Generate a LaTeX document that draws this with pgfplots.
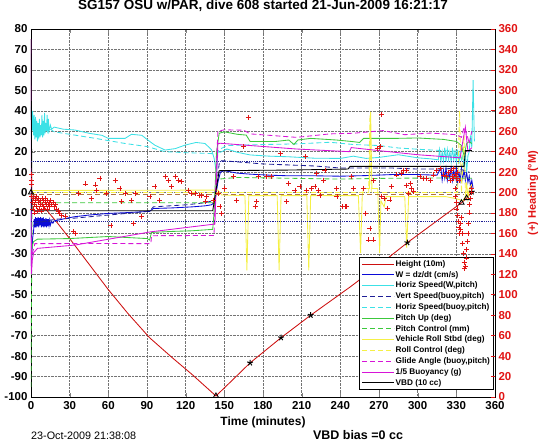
\documentclass[border=0pt]{standalone}
\usepackage{fontspec}
\setmainfont{Liberation Sans}
\usepackage{pgfplots}
\pgfplotsset{compat=1.18}
\definecolor{hred}{RGB}{205,15,15}
\definecolor{axred}{RGB}{225,20,20}
\definecolor{wblue}{RGB}{10,10,215}
\definecolor{navy}{RGB}{30,30,150}
\definecolor{mcyan}{RGB}{60,225,230}
\definecolor{mgreen}{RGB}{60,200,60}
\definecolor{myellow}{RGB}{245,240,70}
\definecolor{mmag}{RGB}{215,20,215}
\definecolor{mbrown}{RGB}{175,115,65}
\begin{document}
\begin{tikzpicture}
\path[use as bounding box] (-31pt,-45pt) rectangle (515pt,397pt);
\begin{axis}[
  at={(0pt,0pt)}, anchor=south west,
  width=464pt, height=368pt, scale only axis,
  xmin=0, xmax=360, ymin=-100, ymax=80,
  xtick={0,30,...,360}, ytick={-100,-90,...,80},
  xtick pos=both, ytick pos=left, tick align=inside,
  major tick length=4pt,
  grid=major, major grid style={densely dotted, black!55, line width=0.5pt},
  axis line style={line width=0.7pt},
  tick label style={font=\fontsize{11.5}{13}\selectfont\bfseries},
  /pgf/number format/assume math mode=true,
  /pgf/number format/1000 sep={},
  xticklabel style={yshift=-0.5pt},
  xlabel={Time (minutes)},
  xlabel style={font=\fontsize{12}{14}\selectfont\bfseries, at={(axis description cs:0.5,0)}, anchor=center, yshift=-25pt},
  title={SG157 OSU w/PAR, dive 608 started 21-Jun-2009 16:21:17},
  title style={font=\fontsize{13.5}{15}\selectfont\bfseries, at={(axis description cs:0.5,1)}, anchor=center, yshift=17pt},
  legend style={at={(1,0)}, anchor=south east, xshift=-1.5pt, yshift=7pt,
    font=\fontsize{8.2}{10}\selectfont\bfseries, draw=black, line width=0.7pt,
    inner xsep=2.5pt, inner ysep=2pt, row sep=1.2pt,
    nodes={inner sep=0.8pt, text height=6.2pt, text depth=1.8pt}},
  legend cell align=left,
  legend image code/.code={\draw[#1, line width=1pt] (0pt,0pt) -- (32pt,0pt);},
  every axis plot/.append style={line width=0.85pt},
]
% Height
\addplot[hred] coordinates {(0,0)(10,-7)(20,-14.5)(30,-22.5)(45,-35)(60,-47.5)(75,-59)(92,-71)(110,-81)(125,-89)(143.5,-99.5)(155,-92.5)(170,-83.3)(194,-71)(217,-60)(248,-46)(270,-35.5)(292,-24.5)(320,-11.5)(334,-5)(338,-2.7)(342,0.3)};
\addlegendentry{Height (10m)}
% W
\addplot[wblue] coordinates {(0,0)(0.3,-36)(0.8,-28)(1.3,-22)(2,-19)(2.5,-13)(3,-17)(3.5,-12)(4,-17)(4.5,-12.5)(5,-16.5)(5.5,-12)(6,-17)(6.5,-12.5)(7,-16)(7.5,-12)(8,-17)(8.5,-12.5)(9,-16.5)(9.5,-12)(10,-17)(10.5,-13)(11,-16.5)(11.5,-12.5)(12,-17)(12.5,-13)(13,-16.5)(13.5,-13)(14,-16)(14.5,-13.5)(15,-16)(16,-14)(17,-15)(18,-13.8)(21,-13.5)(28,-12.5)(34,-11.8)(45,-11)(60,-10.2)(75,-9.8)(86,-9.4)(92,-9.2)(95,-7.8)(110,-7.5)(125,-7)(135,-6.5)(140,-6)(142,-5)(143,-3)(145,5)(147,10)(150,10.7)(160,9.5)(170,9)(185,8.5)(200,8.2)(220,8.2)(240,8)(260,8.3)(280,8.8)(300,8.8)(315,8.5)(318,12)(319,6)(320,11)(321,7)(322,12)(323,6)(324,10)(325,7)(326,13)(327,6)(328,11)(329,7)(330,12)(331,5)(332,10)(333,6)(334,12)(335,7)(336,11)(337,6)(338,10)(339,5)(340,8)(341,3)(342,6)(343,2)};
\addlegendentry{W = dz/dt (cm/s)}
% Horiz speed (W,pitch)
\addplot[mcyan] coordinates {(0,42)(0.8,30)(1.3,40)(2,28)(2.5,38)(3,26)(3.5,37)(4,27)(4.5,35)(5,25)(5.5,34)(6,26)(6.5,36)(7,27)(7.5,33)(8,28)(8.5,38)(9,27)(9.5,35)(10,28)(10.5,39)(11,29)(11.5,34)(12,30)(12.5,38)(13,29)(13.5,36)(14,30)(15,33)(16,31)(18,32)(25,31)(34,30.6)(45,29)(55,28)(60,26.5)(73,26.5)(78,28.5)(86,28)(90,26)(96,23.2)(104,20.8)(112,21.5)(119.5,23.2)(128,24.5)(135,24)(140,21)(142,17)(143,13)(144,10)(145,20)(147,19.7)(152,21.3)(160,19.7)(170,18.4)(185,17.8)(200,17.5)(220,16.8)(240,16.7)(250,17.8)(260,16.7)(270,17.2)(285,18.5)(300,17)(310,16.5)(316,16)(317,21)(318,15)(319,20)(320,15.5)(321,22)(322,15)(323,21)(324,16)(325,20)(326,15)(327,22)(328,16)(329,20)(330,15)(331,21)(332,14)(333,20)(334,16)(335,18)(336,12)(337,20)(338,10)(339,18)(340,20)(341,28)(342,22)(343,55)(344,25)};
\addlegendentry{Horiz Speed(W,pitch)}
% Vert speed (buoy,pitch)
\addplot[navy, dash pattern=on 5pt off 3pt] coordinates {(2,-16)(10,-14)(20,-13)(34,-12.5)(60,-11)(86,-9.5)(92,-9)(95,-7)(120,-6)(135,-5)(141,-4)(143,-2)(146,14)(148,15.6)(160,15)(180,14)(200,13.5)(220,13)(240,12)(260,12)(280,12)(300,11.5)(320,11.5)(330,12)(335,11)(340,10)};
\addlegendentry{Vert Speed(buoy,pitch)}
% Horiz speed (buoy,pitch)
\addplot[mcyan, dash pattern=on 5pt off 3pt] coordinates {(15,31)(18,29.7)(34,28.1)(50,26.5)(73,24)(90,22.5)(104,20)(120,19.5)(135,19.2)(142,19)(144,19)(146,21)(152,23)(180,23.5)(206,23.8)(232,24.6)(250,23.5)(270,23)(285,21.8)(305,21)(330,20.2)(340,20)};
\addlegendentry{Horiz Speed(buoy,pitch)}
% Pitch up
\addplot[mgreen] coordinates {(0.3,-30)(1,-26)(2,-24)(5,-22.8)(30,-22.5)(60,-21.5)(75,-22)(90,-22.5)(92,-23.2)(93.5,-19.5)(110,-19)(125,-18.7)(141,-18)(142,-10)(144,20)(146,29)(150,29.7)(160,28.5)(167,28.1)(170,25)(190,25)(200,25.7)(204,23.5)(207,25.7)(217,26.5)(237,25.7)(250,24.9)(255,24.5)(258,26.5)(283,26.5)(300,26.7)(320,26)(330,25)(334,23)(336,18)(338,24)(340,25)(342,24)};
\addlegendentry{Pitch Up (deg)}
% Pitch control
\addplot[mgreen, dash pattern=on 5pt off 3pt] coordinates {(0,-95)(0.8,-5)(142,-5)(144,5)(146,6.6)(160,7.4)(200,7)(240,6.6)(280,7)(330,7.2)(335,7)(342,7)};
\addlegendentry{Pitch Control (mm)}
% Vehicle roll
\addplot[myellow] coordinates {(0,1)(141,1.2)(145,1.2)(148,-1.2)(166,-1.5)(167.5,-38)(169,-1.5)(191,-1.5)(192.5,-38)(194,-1.5)(214,-1.5)(215.5,-38)(217,-1.5)(254,-1.5)(255.7,-29.6)(257,-1.5)(258,2)(262.5,2)(263.5,39.5)(264.5,2)(269,2)(270.5,-29.6)(271.5,-4)(274,-7)(275.5,-2)(290,-2)(291.5,-27)(293,-2)(322,-2)(330,-3)(335,-4)(337,-2)(338,5)(339,-3)(340,2)(342,4)};
\addlegendentry{Vehicle Roll Stbd (deg)}
% Roll control
\addplot[myellow, dash pattern=on 5pt off 3pt] coordinates {(0,0)(262,0)(263,38)(264,0)(331,0)(332.5,40)(334,0)(336,28)(337,0)(342,0)};
\addlegendentry{Roll Control (deg)}
% Glide angle
\addplot[mmag, dash pattern=on 5pt off 3pt] coordinates {(1,-30)(3,-25)(50,-24.9)(93,-25)(93.5,-21.1)(142,-21)(143,0)(145,30)(150,30.7)(165,30.5)(170,28.7)(206,27)(232,28.7)(250,29)(273,30.3)(290,28.3)(310,29.1)(330,28.3)(334,27)(336,32)(338,29)(340,24)(342,30)};
\addlegendentry{Glide Angle (buoy,pitch)}
% 1/5 buoyancy
\addplot[mmag] coordinates {(0,75)(0.3,-40)(1,-33)(2,-29.5)(5,-27.3)(34,-25.7)(93,-19.2)(142.7,-15.4)(143.5,0)(145,24)(147,24.1)(206,21.3)(247,20)(248.5,22)(270,20.5)(300,18.5)(333,17)(335,25)(337,32)(339,20)(342,22)};
\addlegendentry{1/5 Buoyancy (g)}
% VBD
\addplot[black] coordinates {(0,75)(0.7,-8.9)(141,-8.9)(146,10.7)(200,11)(246,11.5)(247.5,12.8)(336,12.8)(337,20.5)(342,20.5)};
\addlegendentry{VBD (10 cc)}
% extras
\addplot[mbrown, dash pattern=on 5pt off 3pt, forget plot] coordinates {(0,-0.8)(336,-0.8)};
\addplot[navy, densely dotted, line width=0.9pt, forget plot] coordinates {(0,15)(360,15)};
\addplot[navy, densely dotted, line width=0.9pt, forget plot] coordinates {(0,-14)(360,-14)};
\addplot[black, only marks, mark=triangle, mark size=3pt, forget plot] coordinates {(0,0)(143.5,-99.5)(334,-5)(338,-2.7)};
\addplot[black, only marks, mark=star, mark size=3pt, line width=1pt, forget plot] coordinates {(170,-83.3)(194,-71)(217,-60)(292,-24.5)(342,0.3)};
\end{axis}
\begin{axis}[
  at={(0pt,0pt)}, anchor=south west,
  width=464pt, height=368pt, scale only axis,
  xmin=0, xmax=360, ymin=0, ymax=360,
  hide x axis, axis y line*=right,
  ytick={0,20,...,360}, tick align=inside, major tick length=4pt,
  ytick style={draw=axred, line width=0.6pt},
  axis line style={line width=0.7pt},
  tick label style={font=\fontsize{11.5}{13}\selectfont\bfseries, text=axred},
  /pgf/number format/assume math mode=true,
  ylabel={(+) Heading (°M)},
  ylabel style={font=\fontsize{11}{13}\selectfont\bfseries, text=axred, at={(axis description cs:1.082,0.554)}, anchor=center},
]
\addplot[axred, only marks, mark=+, mark size=2.5pt, line width=0.8pt] coordinates {
(0.2,212)(0.4,218)(0.6,208)(0.5,196)(1,190)(1.5,184)(2,194)(2.5,188)(3,180)(3.5,192)(4,186)(4.5,196)(5,182)(5.5,190)(6,194)(6.5,184)(7,188)(7.5,192)(8,182)(8.5,194)(9,188)(9.5,186)(10,192)(10.5,184)(11,190)(11.5,194)(12,188)(12.5,184)(13,192)(13.5,188)(14,190)(14.5,186)(15,192)(16,188)(17,190)(18,186)(19,188)(20,184)(21,182)(22,180)(23.8,178)(26.4,176.4)
(32.9,161.6)(34.2,160)(36.7,199.2)(41.9,208.4)(47,194.2)(50.2,207.4)(51,202.4)(53.5,213.8)(58.7,199.2)(62,167.6)(65.2,212.2)(69,204.2)(70.3,191)(73,199.2)(78,192.6)(79.4,169.8)(80.7,199.2)(85.9,177)(92.3,196)(96.2,205.8)(100,192.6)(104,215.4)(106.6,212.2)(109.2,205.8)(111.8,215.4)(114.4,212.2)(117,210.6)(122,202.4)(124.7,199.2)(127.3,199.2)(132.5,197.6)(136.4,196)(131,197.6)(135,191)(141.5,192.6)(145.3,199.2)(146.6,186.2)(147.9,179.6)(150.4,204)
(157,215.4)(159.6,192.6)(164.7,244.8)(168.6,273.6)(173.8,186.2)(175,191)(176.3,215.4)(182.8,215.4)(186.7,215.4)(193.2,238.4)(198.3,191)(199.6,209)(204.8,202.4)(208.7,205.8)(212.6,235)(213.9,202.4)(217.8,204)(220.3,205.8)(221.6,218.8)(222.9,202.4)(224.2,197.6)(226.8,212.2)(228.1,222)(237.4,196)(241.3,186.2)(237.2,204)(243.6,186.2)(244.9,186.2)(248.8,215.4)(250.4,204)(257.9,204)(259.6,179.6)(262,153.6)(263,165)(265.6,153.6)(265.6,212.2)(268.7,243.2)(270.8,244.8)(272,276)(272,196)(274,194.4)(276.5,184.6)(278.5,192.8)(279.8,205.8)(283.7,217.2)(287.6,218.8)(288.9,222)(291,207.2)(291.5,222)(292.8,199.2)(294.1,209)(295.4,204)(296.6,200.8)(301.8,215.4)(304.4,213.8)(307,213.8)(309.6,212.2)(312.2,217.2)(314.8,222)(317.4,223.6)(320,217.2)(322.5,215.4)(325.1,212.2)(327.7,213.8)(330.3,215.4)
(324,220)(326,222)(327,216)(328,224)(329,218)(330,214)(331,220)(332,212)
(329,204)(329.5,196)(330,190)(330.5,184)(331,178)(331.5,172)(332,166)(332.5,160)(333,164)(333.5,170)(334,176)(334.5,160)(335,150)(335.5,140)(336,132)(336.5,126)(337,128)(337.5,136)(338,144)(338.5,152)(339,160)(339.5,170)(340,180)(340.5,188)(341,194)(341.5,200)(342,204)};
\end{axis}
\node[anchor=west, font=\fontsize{10.8}{12}\selectfont, inner sep=0pt] at (0pt,-39pt) {23-Oct-2009 21:38:08};
\node[anchor=center, font=\fontsize{12.5}{14}\selectfont\bfseries, inner sep=0pt] at (327pt,-38.5pt) {VBD bias =0 cc};
\end{tikzpicture}
\end{document}
